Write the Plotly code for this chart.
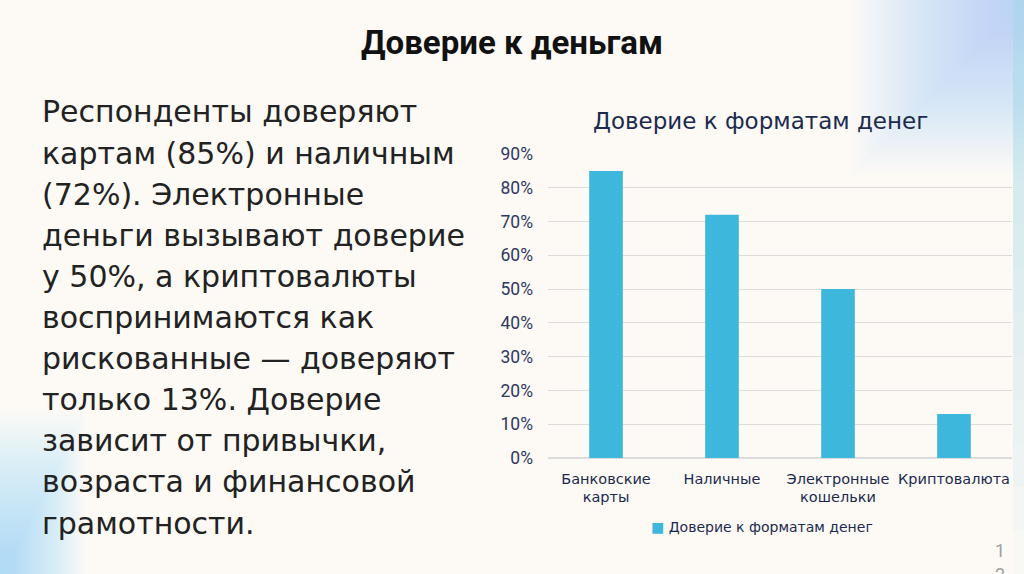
import plotly.graph_objects as go

categories = ["Банковские<br>карты", "Наличные", "Электронные<br>кошельки", "Криптовалюта"]
values = [85, 72, 50, 13]
series_name = "Доверие к форматам денег"
y_ticks = [0, 10, 20, 30, 40, 50, 60, 70, 80, 90]
y_tick_labels = [f"{v}%" for v in y_ticks]

slide_title = "Доверие к деньгам"
body_lines = [
    "Респонденты доверяют",
    "картам (85%) и наличным",
    "(72%). Электронные",
    "деньги вызывают доверие",
    "у 50%, а криптовалюты",
    "воспринимаются как",
    "рискованные — доверяют",
    "только 13%. Доверие",
    "зависит от привычки,",
    "возраста и финансовой",
    "грамотности.",
]

W, H = 1024, 574
BG = "#fdfaf6"
NAVY = "#1b2a4e"
BAR = "#3db7dc"
GLOW = "#a3daed"

fig = go.Figure()
fig.add_trace(go.Bar(
    x=categories, y=values, name=series_name,
    marker=dict(color=BAR, line=dict(width=0)),
    width=0.29, showlegend=False,
))

def py(px):
    return 1 - px / H

# background gradient approximation (soft glow in corners)
shapes = []
N = 45
for i in range(N):
    t = i / (N - 1)
    shapes.append(dict(type="rect", xref="paper", yref="paper",
                       x0=(850 + t * 165) / W, x1=1.0,
                       y0=py(175 - t * 165), y1=1.0, fillcolor=GLOW, opacity=0.022,
                       line=dict(width=0), layer="below"))
for i in range(12):
    t = i / 11
    shapes.append(dict(type="rect", xref="paper", yref="paper", x0=1013 / W, x1=1.0,
                       y0=py(574 - t * 480), y1=1.0, fillcolor=GLOW, opacity=0.06,
                       line=dict(width=0), layer="below"))
M = 35
for i in range(M):
    t = i / (M - 1)
    shapes.append(dict(type="rect", xref="paper", yref="paper",
                       x0=0.0, x1=(85 - t * 80) / W,
                       y0=0.0, y1=py(410 + t * 160), fillcolor=GLOW, opacity=0.026,
                       line=dict(width=0), layer="below"))

annotations = [
    dict(text=f"<b>{slide_title}</b>", x=0.5, y=py(43), xref="paper", yref="paper",
         showarrow=False, xanchor="center", yanchor="middle",
         font=dict(family="Roboto", size=33, color="#111111")),
    dict(text=series_name, x=760 / W, y=py(121), xref="paper", yref="paper",
         showarrow=False, xanchor="center", yanchor="middle",
         font=dict(family="DejaVu Sans", size=23, color=NAVY)),
    dict(text=f"<span style='color:{BAR}'>■</span> {series_name}",
         x=762 / W, y=py(527), xref="paper", yref="paper",
         showarrow=False, xanchor="center", yanchor="middle",
         font=dict(family="DejaVu Sans", size=14, color=NAVY)),
    dict(text="1", x=1000 / W, y=py(550), xref="paper", yref="paper",
         showarrow=False, xanchor="center", yanchor="middle",
         font=dict(family="Roboto", size=18, color="#a0a0a0")),
    dict(text="2", x=1000 / W, y=py(562), xref="paper", yref="paper",
         showarrow=False, xanchor="center", yanchor="top",
         font=dict(family="Roboto", size=18, color="#a0a0a0")),
]
for i, line in enumerate(body_lines):
    annotations.append(dict(
        text=line, x=40 / W, y=py(112 + 41.1 * i), xref="paper", yref="paper",
        showarrow=False, xanchor="left", yanchor="middle",
        font=dict(family="DejaVu Sans", size=30, color="#222222")))

fig.update_layout(
    width=W, height=H,
    margin=dict(l=0, r=0, t=0, b=0, pad=0, autoexpand=False),
    paper_bgcolor=BG, plot_bgcolor="rgba(0,0,0,0)",
    shapes=shapes, annotations=annotations,
    showlegend=False,
    xaxis=dict(domain=[548 / W, 1012 / W], showgrid=False, showline=False,
               ticks="", ticklabelstandoff=10,
               tickfont=dict(family="DejaVu Sans", size=14.5, color=NAVY)),
    yaxis=dict(domain=[py(458), py(154)], range=[0, 90], tickvals=y_ticks,
               ticktext=y_tick_labels, showgrid=True, gridcolor="#dcdcdc",
               gridwidth=1, zeroline=True, zerolinecolor="#dcdcdc", showline=False,
               ticks="", ticklabelstandoff=14,
               tickfont=dict(family="Roboto", size=17.5, color="#2f3860")),
)

fig.write_html("out.html", config={"displayModeBar": False},
               post_script="document.body.style.margin='0';")
